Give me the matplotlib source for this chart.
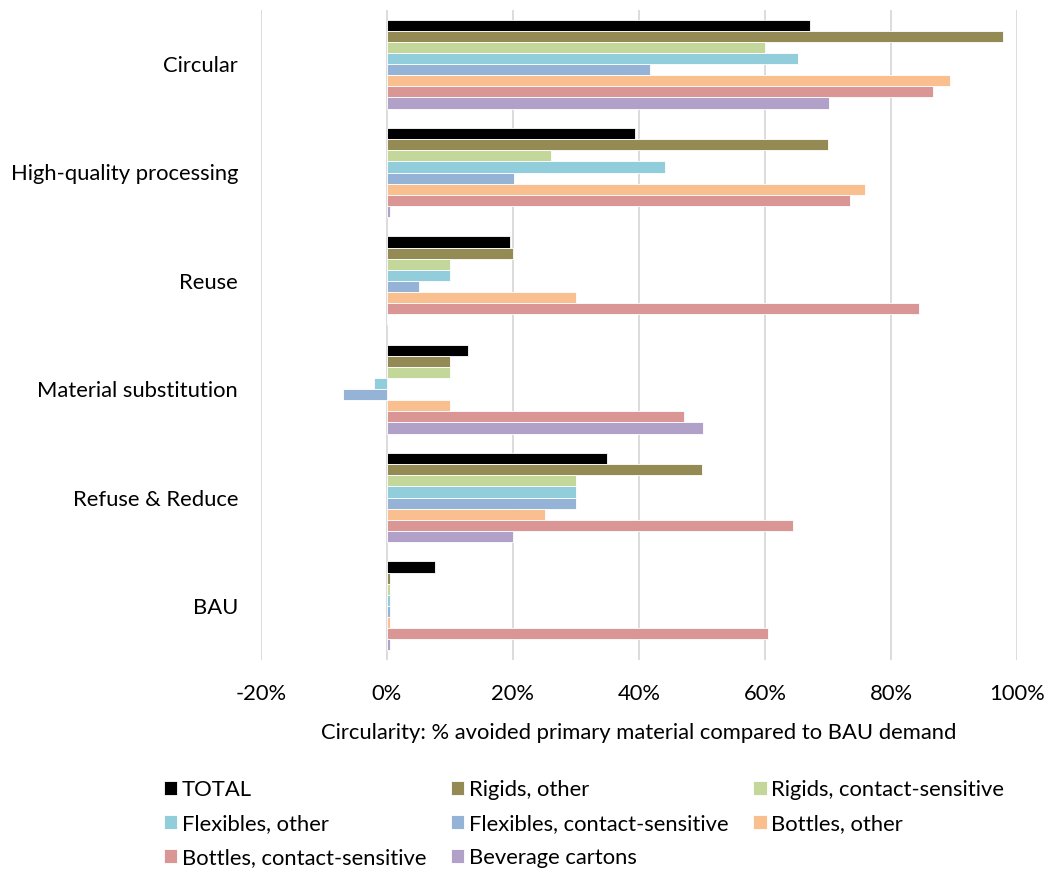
import numpy as np
import matplotlib
matplotlib.use("Agg")
import matplotlib.pyplot as plt
from matplotlib.ticker import PercentFormatter

plt.rcParams['font.family'] = ['Lato', 'DejaVu Sans']
plt.rcParams['axes.unicode_minus'] = False

# scenarios, top to bottom
scenarios = ["Circular", "High-quality processing", "Reuse",
             "Material substitution", "Refuse & Reduce", "BAU"]

series_names = ["TOTAL", "Rigids, other", "Rigids, contact-sensitive",
                "Flexibles, other", "Flexibles, contact-sensitive",
                "Bottles, other", "Bottles, contact-sensitive",
                "Beverage cartons"]

colors = ["#000000", "#948A54", "#C4D79B", "#92CDDC",
          "#95B3D7", "#FABF8F", "#DA9694", "#B1A0C7"]

# % avoided primary material, one list per series (order = scenarios)
total          = [67.1, 39.3, 19.5, 12.9, 34.9, 7.6]
rigids_other   = [97.8, 70.0, 20.0, 10.0, 50.0, 0.5]
rigids_cs      = [60.0, 26.1, 10.0, 10.0, 30.0, 0.5]
flex_other     = [65.2, 44.2, 10.0, -2.0, 30.0, 0.5]
flex_cs        = [41.8, 20.2, 5.0, -7.0, 30.0, 0.5]
bottles_other  = [89.4, 75.9, 30.0, 10.0, 25.0, 0.5]
bottles_cs     = [86.7, 73.5, 84.4, 47.2, 64.5, 60.5]
bev_cartons    = [70.1, 0.5, 0.0, 50.1, 20.0, 0.5]

data = [total, rigids_other, rigids_cs, flex_other, flex_cs,
        bottles_other, bottles_cs, bev_cartons]

FS = 15.8

fig = plt.figure(figsize=(10.55, 8.69), dpi=100)
ax = fig.add_axes([261 / 1055, 1 - 660 / 869, (1017 - 261) / 1055, 650 / 869])

n_cat = len(scenarios)
n_ser = len(series_names)
y_centers = np.arange(n_cat)[::-1].astype(float)
group_h = 0.82
bar_h = group_h / n_ser

handles = []
for i, (name, vals, c) in enumerate(zip(series_names, data, colors)):
    offs = group_h / 2 - bar_h * (i + 0.5)
    b = ax.barh(y_centers + offs, vals, height=bar_h, color=c,
                edgecolor="white", linewidth=0.6, label=name, zorder=3)
    handles.append(b)

ax.set_xlim(-20, 100)
ax.set_ylim(-0.5, n_cat - 0.5)
ax.set_xticks(np.arange(-20, 101, 20))
ax.xaxis.set_major_formatter(PercentFormatter(decimals=0))
ax.set_yticks(y_centers)
ax.set_yticklabels(scenarios)
ax.tick_params(axis="both", length=0, labelsize=FS, colors="black")
ax.tick_params(axis="x", pad=17)
ax.tick_params(axis="y", pad=16.5)
ax.grid(axis="x", color="#d9d9d9", linewidth=1.3, zorder=0)
ax.set_axisbelow(True)
for s in ax.spines.values():
    s.set_visible(False)

ax.set_xlabel("Circularity: % avoided primary material compared to BAU demand",
              fontsize=FS, labelpad=14)

# legend reads row by row, matplotlib fills column by column
order = [0, 3, 6, 1, 4, 7, 2, 5]
fig.legend([handles[k] for k in order], [series_names[k] for k in order],
           loc="upper left", bbox_to_anchor=(164 / 1055, 1 - 780 / 869,
                                             (1004 - 164) / 1055, 0),
           mode="expand", ncol=3, frameon=False, fontsize=FS,
           handlelength=0.6, handleheight=0.6, handletextpad=0.2,
           labelspacing=0.64, borderaxespad=0, borderpad=0)

fig.savefig("out.png", dpi=100)
